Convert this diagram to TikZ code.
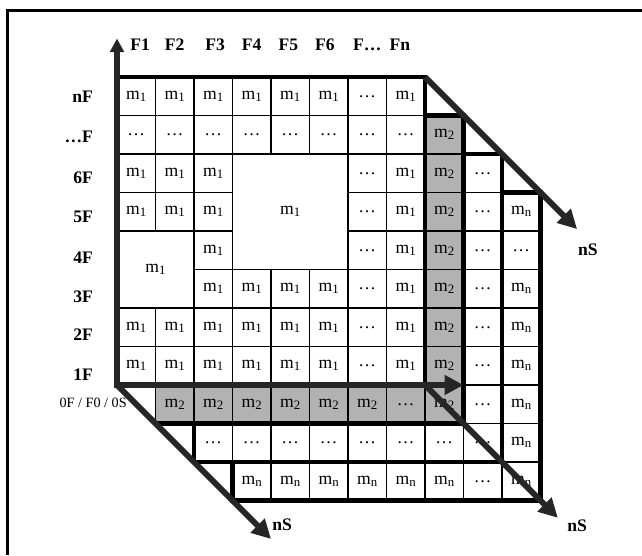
\documentclass[tikz,border=0pt]{standalone}
\usepackage{fontspec}
\setmainfont{Liberation Serif}
\usepackage{tikz}
\usetikzlibrary{positioning, calc, arrows.meta}

\colorlet{axisgray}{black!85}
\colorlet{layergray}{black!30}

\newcommand{\lowsub}[1]{\raisebox{-0.25ex}{\fontsize{9.5}{10}\selectfont #1}}
\newcommand{\mone}{m\lowsub{1}}
\newcommand{\mtwo}{m\lowsub{2}}
\newcommand{\mlast}{m\lowsub{n}}

\begin{document}
\begin{tikzpicture}[
    font=\fontsize{13}{15}\selectfont,
    cellline/.style={line width=0.9pt},
    layerborder/.style={line width=3.2pt, line join=miter},
    axisline/.style={line width=4.2pt, axisgray, line join=miter},
    bigtip/.style={-{Triangle[length=14pt,width=14pt]}},
    flabel/.style={font=\fontsize{13}{15}\selectfont\bfseries}
]
    \useasboundingbox (-3.039,-4.416) rectangle (13.636,10.0);

    % outer frame, only top and left are shown
    \draw[line width=2pt] (13.636,9.73) -- (-2.844,9.73) -- (-2.844,-4.416);

    % layer n (back)
    \fill[white] (3,-3) rectangle (11,5);
    \draw[cellline] (3,-3) grid (11,5);
    \draw[layerborder] (3,-3) rectangle (11,5);
    \foreach \r in {-2,-1,0,1,2,4} \node (mnR\r) at (10.5,\r+0.5) {\mlast};
    \node (mnRdots) at (10.5,3.5) {\ldots};
    \foreach \c in {3,...,8,10} \node (mnB\c) at (\c+0.5,-2.5) {\mlast};
    \node (mnBdots) at (9.5,-2.5) {\ldots};

    % layer ... 
    \fill[white] (2,-2) rectangle (10,6);
    \draw[cellline] (2,-2) grid (10,6);
    \draw[layerborder] (2,-2) rectangle (10,6);
    \foreach \r in {-1,...,5} \node (dotR\r) at (9.5,\r+0.5) {\ldots};
    \foreach \c in {2,...,9} \node (dotB\c) at (\c+0.5,-1.5) {\ldots};

    % layer 2 (grey)
    \fill[layergray] (1,-1) rectangle (9,7);
    \draw[cellline] (1,-1) grid (9,7);
    \draw[layerborder] (1,-1) -- (9,-1) -- (9,7) -- (1,7);
    \foreach \r in {0,...,6} \node (mtR\r) at (8.5,\r+0.5) {\mtwo};
    \foreach \c in {1,...,6,8} \node (mtB\c) at (\c+0.5,-0.5) {\mtwo};
    \node (mtBdots) at (7.5,-0.5) {\ldots};

    % layer 1 (front)
    \fill[white] (0,0) rectangle (8,8);
    \draw[cellline] (0,0) grid (8,8);
    \draw[cellline, fill=white] (0,2) rectangle (2,4);
    \draw[cellline, fill=white] (3,3) rectangle (6,6);
    \draw[layerborder] (0,0) rectangle (8,8);
    \node (blockA) at (1,3) {\mone};
    \node (blockB) at (4.5,4.5) {\mone};
    \foreach \r in {0,...,5,7} \node (moR\r) at (7.5,\r+0.5) {\mone};
    \node (moRdots) at (7.5,6.5) {\ldots};
    \foreach \r in {0,...,7} \node (moD\r) at (6.5,\r+0.5) {\ldots};
    \foreach \c in {0,...,5} {
        \node (moTop\c) at (\c+0.5,7.5) {\mone};
        \node (moDots\c) at (\c+0.5,6.5) {\ldots};
        \node (moOne\c) at (\c+0.5,1.5) {\mone};
        \node (moZero\c) at (\c+0.5,0.5) {\mone};
    }
    \foreach \c in {0,1,2} {
        \node (moSix\c) at (\c+0.5,5.5) {\mone};
        \node (moFive\c) at (\c+0.5,4.5) {\mone};
    }
    \node (moFour) at (2.5,3.5) {\mone};
    \foreach \c in {2,...,5} \node (moThree\c) at (\c+0.5,2.5) {\mone};

    % labels
    \foreach \x/\t [count=\i] in {0.6/F1, 1.5/F2, 2.55/F3, 3.5/F4, 4.45/F5, 5.4/F6, 6.5/{F\ldots}, 7.35/Fn}
        \node[flabel] (top\i) at (\x,8.83) {\t};
    \foreach \y/\t [count=\i] in {7.48/nF, 6.44/{\ldots F}, 5.38/6F, 4.36/5F, 3.3/4F, 2.29/3F, 1.3/2F, 0.26/1F}
        \node[flabel, anchor=east] (side\i) at (-0.5,\y) {\t};
    \node[font=\fontsize{10.5}{12}\selectfont] (orig) at (-0.62,-0.47) {0F / F0 / 0S};
    \node[flabel] (nsLeft) at (4.29,-3.64) {nS};
    \node[flabel] (nsMid) at (11.95,-3.66) {nS};
    \node[flabel] (nsTop) at (12.23,3.51) {nS};

    % axes
    \coordinate (O) at (0,0);
    \coordinate (xTip) at (9,0);
    \coordinate (yTip) at (0,9);
    \coordinate (cTop) at (8,8);
    \coordinate (cRight) at (8,0);
    \coordinate (sLeft) at (4,-4);
    \coordinate (sMid) at (11.45,-3.45);
    \coordinate (sTop) at (11.95,4.05);

    \draw[axisline, {Triangle[length=10pt,width=10pt]}-{Triangle[length=14pt,width=14pt]}] (yTip) -- (O) -- (xTip);
    \draw[axisline, bigtip] (O) -- (sLeft);
    \draw[axisline, bigtip] (cRight) -- (sMid);
    \draw[axisline, bigtip] (cTop) -- (sTop);
\end{tikzpicture}
\end{document}
